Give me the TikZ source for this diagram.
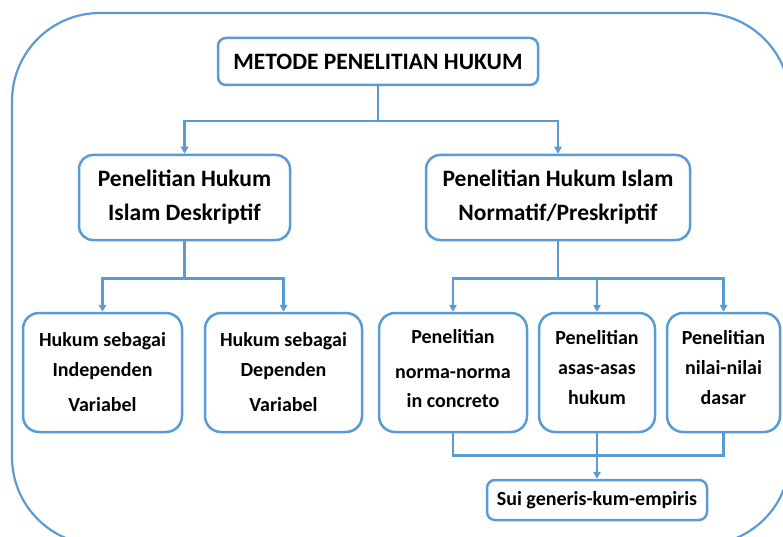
\documentclass[tikz,border=0pt]{standalone}
\usepackage{fontspec}
\setmainfont{Carlito}
\usetikzlibrary{arrows.meta}
\definecolor{lineblue}{HTML}{5B9BD5}
\tikzset{
  box/.style={draw=lineblue, line width=2.5pt, fill=white, align=center, inner sep=0pt},
  bigbox/.style={box, rounded corners=14pt, font=\fontsize{23.5}{34}\selectfont\bfseries},
  smallbox/.style={box, rounded corners=16pt, minimum height=119, font=\fontsize{20}{31}\selectfont\bfseries},
  link/.style={lineblue, line width=2.5pt}
}
\begin{document}
\begin{tikzpicture}[x=1pt, y=-1pt, >={Triangle[length=7pt,width=7.5pt]}]
	\useasboundingbox (0,0) rectangle (783,537);
	% outer frame
	\draw[lineblue, line width=2.2pt, rounded corners=88pt] (12,13) rectangle (790,545);
	% boxes
	\node[bigbox, rounded corners=8pt, minimum width=320, minimum height=47] (metode) at (378,61.5) {METODE PENELITIAN HUKUM};
	\node[bigbox, minimum width=211, minimum height=85] (deskriptif) at (184.5,197.5) {Penelitian Hukum\\Islam Deskriptif};
	\node[bigbox, minimum width=264, minimum height=85] (normatif) at (558,197.5) {Penelitian Hukum Islam\\Normatif/Preskriptif};
	\node[smallbox, minimum width=159] (independen) at (102.5,372.5) {Hukum sebagai\\[-1pt]Independen\\[4pt]Variabel};
	\node[smallbox, minimum width=157] (dependen) at (283.5,372.5) {Hukum sebagai\\[-1pt]Dependen\\[4pt]Variabel};
	\node[smallbox, minimum width=148] (konkret) at (453,372.5) {Penelitian\\[4pt]norma-norma\\[-2pt]in concreto\\[-22pt]};
	\node[smallbox, minimum width=116] (asas) at (597,372.5) {Penelitian\\[-1pt]asas-asas\\[-1pt]hukum\\[-20pt]};
	\node[smallbox, minimum width=113] (nilai) at (723.5,372.5) {Penelitian\\[-1pt]nilai-nilai\\[-1pt]dasar\\[-20pt]};
	\node[box, rounded corners=8pt, minimum width=220, minimum height=40, font=\fontsize{20}{24}\selectfont\bfseries] (sui) at (597,500) {Sui generis-kum-empiris};
	% connectors
	\draw[link, ->] (metode.south) -- ++(0,35) -| (deskriptif.north);
	\draw[link, ->] (metode.south) -- ++(0,35) -| (normatif.north);
	\draw[link, ->] (deskriptif.south) -- ++(0,37) -| (independen.north);
	\draw[link, ->] (deskriptif.south) -- ++(0,37) -| (dependen.north);
	\draw[link, ->] (normatif.south) -- ++(0,37) -| (konkret.north);
	\draw[link, ->] (normatif.south) -- ++(0,37) -| (asas.north);
	\draw[link, ->] (normatif.south) -- ++(0,37) -| (nilai.north);
	\draw[link] (konkret.south) -- ++(0,22) -| (nilai.south);
	\draw[link, ->] (asas.south) -- (sui.north);
\end{tikzpicture}
\end{document}
